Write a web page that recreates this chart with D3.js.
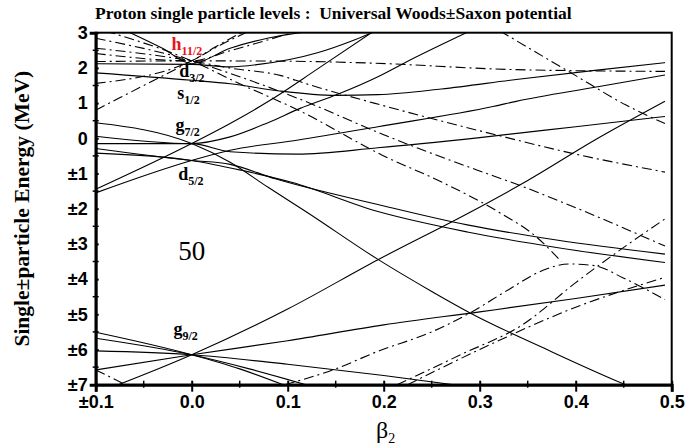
<!DOCTYPE html>
<html>
<head>
<meta charset="utf-8">
<script src="https://cdn.jsdelivr.net/npm/d3@7"></script>
<style>
  body { margin: 0; background: #fff; }
  svg { display: block; }
  .tick-label { font-family: "Liberation Sans", Arial, sans-serif; font-weight: bold; font-size: 18px; }
  .serif { font-family: "Liberation Serif", "Times New Roman", serif; }
</style>
</head>
<body>
<div id="chart"></div>
<script>
// axis ticks
const xTicks = [-0.1, 0.0, 0.1, 0.2, 0.3, 0.4, 0.5];
const yTicks = [3, 2, 1, 0, -1, -2, -3, -4, -5, -6, -7];

// single particle levels, [beta2, energy (MeV)]
// g9/2 (spherical -6.15)
const g92_a = [[-0.1, -7.25], [0, -6.15], [0.1, -4.85], [0.194, -3.45], [0.29, -2.1], [0.35, -1.2], [0.42, -0.05], [0.493, 1.05]];
const g92_b = [[-0.1, -6.58], [0, -6.15], [0.1, -5.75], [0.2, -5.3], [0.3, -4.93], [0.4, -4.55], [0.493, -4.17]];
const g92_c = [[-0.1, -6.04], [0, -6.15], [0.1, -6.42], [0.2, -6.74], [0.3, -7.1]];
const g92_d = [[-0.1, -5.68], [0, -6.15], [0.06, -6.55], [0.125, -7.05]];
const g92_e = [[-0.1, -5.51], [0, -6.15], [0.05, -6.55], [0.1, -7.05]];
// g7/2 (spherical -0.15)
const g72_a = [[-0.1, -1.45], [0, -0.15], [0.04, 0.42], [0.08, 1.05], [0.13, 1.95], [0.19, 3.05]];
const g72_b = [[-0.1, 0.06], [0, -0.15], [0.04, 0.04], [0.08, 0.45], [0.113, 0.85], [0.152, 1.25], [0.194, 1.75], [0.225, 2.19], [0.29, 3.05]];
const g72_c = [[-0.1, -0.15], [0, -0.15], [0.04, -0.38], [0.11, -0.45], [0.194, -0.27], [0.3, 0.02], [0.4, 0.33], [0.493, 0.62]];
const g72_d = [[-0.1, 0.44], [0, -0.15], [0.04, -0.68], [0.08, -1.4], [0.12, -2.1], [0.194, -3.44], [0.25, -4.35], [0.29, -4.96], [0.37, -6.0], [0.452, -7.0], [0.47, -7.2]];
// d5/2 (spherical -0.63)
const d52_a = [[-0.1, -1.55], [0, -0.63], [0.04, -0.34], [0.111, -0.05], [0.194, 0.33], [0.315, 0.91], [0.338, 1.05], [0.42, 1.45], [0.493, 1.8]];
const d52_b = [[-0.1, -0.29], [0, -0.63], [0.04, -0.74], [0.087, -1.15], [0.194, -1.88], [0.287, -2.46], [0.38, -2.89], [0.493, -3.29]];
const d52_c = [[-0.1, -0.42], [0, -0.63], [0.052, -0.91], [0.104, -1.25], [0.194, -2.08], [0.287, -2.66], [0.38, -3.1], [0.493, -3.53]];
// s1/2 and d3/2
const s12_a = [[-0.1, 1.86], [0, 1.65], [0.04, 1.55], [0.09, 1.35], [0.15, 1.22], [0.194, 1.24], [0.26, 1.4], [0.338, 1.67], [0.42, 1.93], [0.493, 2.15]];
const d32_a = [[-0.068, 3.05], [-0.03, 2.55], [0, 2.12], [0.04, 2.56], [0.08, 2.85], [0.126, 3.05]];
const d32_b = [[-0.1, 2.12], [0, 2.1], [0.04, 2.03], [0.07, 2.1], [0.131, 2.43], [0.17, 2.8], [0.192, 3.05]];
// h11/2 (spherical 2.2)
const h112_a = [[-0.09, 3.05], [0, 2.2], [0.05, 1.55], [0.111, 0.8], [0.2, -0.5], [0.261, -1.25], [0.32, -2.1], [0.359, -2.8], [0.385, -3.5]];
const h112_b = [[-0.1, 2.84], [0, 2.2], [0.05, 1.75], [0.111, 1.13], [0.2, 0.1], [0.297, -0.9], [0.338, -1.3], [0.42, -2.2], [0.493, -3.06]];
const h112_c = [[-0.1, 2.56], [0, 2.2], [0.039, 2.0], [0.093, 1.78], [0.118, 1.56], [0.19, 1.0], [0.318, 0.09], [0.4, -0.45], [0.493, -0.96]];
const h112_d = [[-0.1, 2.18], [0, 2.2], [0.1, 2.19], [0.183, 2.14], [0.338, 1.95], [0.493, 1.9]];
const h112_e = [[-0.1, 2.41], [0, 2.2], [0.039, 2.48], [0.08, 2.8], [0.11, 3.05]];
const h112_f = [[-0.1, 1.56], [0, 2.2], [0.025, 2.6], [0.055, 3.05]];
const h112_g = [[-0.1, 0.8], [-0.05, 1.5], [0, 2.2], [0.03, 2.65], [0.06, 3.05]];
// other negative parity levels
const neg_a = [[0.321, 3.05], [0.4, 1.78], [0.452, 0.95], [0.493, 0.42]];
const neg_b = [[0.097, -7.0], [0.15, -6.55], [0.194, -6.05], [0.25, -5.5], [0.29, -4.96], [0.33, -4.3], [0.366, -3.75], [0.393, -3.57], [0.42, -3.62], [0.449, -3.96], [0.493, -4.58]];
const neg_c = [[0.214, -7.0], [0.28, -6.15], [0.345, -5.29], [0.4, -4.1], [0.45, -3.1], [0.493, -2.29]];
const neg_d = [[0.225, -7.0], [0.3, -6.0], [0.4, -4.8], [0.493, -3.95]];
const neg_e = [[-0.1, -6.58], [-0.065, -7.05]];

const solidLevels = [g92_a, g92_b, g92_c, g92_d, g92_e, g72_a, g72_b, g72_c, g72_d,
  d52_a, d52_b, d52_c, s12_a, d32_a, d32_b];
const dashLevels = [h112_a, h112_b, h112_c, h112_d, h112_e, h112_f, h112_g,
  neg_a, neg_b, neg_c, neg_d, neg_e];

const W = 700, H = 447;
const margin = { left: 95.7, right: 700 - 671.7, top: 32.7, bottom: 447 - 384.7 };

const svg = d3.select('#chart').append('svg')
  .attr('width', W).attr('height', H);

svg.append('rect').attr('width', W).attr('height', H).attr('fill', '#fff');

const x = d3.scaleLinear().domain([-0.1, 0.5]).range([margin.left, W - margin.right]);
const y = d3.scaleLinear().domain([-7, 3]).range([H - margin.bottom, margin.top]);

const fmt = (v, digits) => (v < 0 ? '±' : '') + Math.abs(v).toFixed(digits);

svg.append('clipPath').attr('id', 'plot-clip')
  .append('rect')
  .attr('x', x(-0.1)).attr('y', y(3))
  .attr('width', x(0.5) - x(-0.1)).attr('height', y(-7) - y(3));

const line = d3.line()
  .x(d => x(d[0]))
  .y(d => y(d[1]))
  .curve(d3.curveMonotoneX);

const g = svg.append('g').attr('clip-path', 'url(#plot-clip)');

g.selectAll('path.solid')
  .data(solidLevels)
  .join('path')
  .attr('class', 'solid')
  .attr('d', line)
  .attr('fill', 'none')
  .attr('stroke', '#000')
  .attr('stroke-width', 1.1);

g.selectAll('path.dash')
  .data(dashLevels)
  .join('path')
  .attr('class', 'dash')
  .attr('d', line)
  .attr('fill', 'none')
  .attr('stroke', '#000')
  .attr('stroke-width', 1.1)
  .attr('stroke-dasharray', '10,4,2,4');

// frame
svg.append('rect')
  .attr('x', x(-0.1)).attr('y', y(3))
  .attr('width', x(0.5) - x(-0.1)).attr('height', y(-7) - y(3))
  .attr('fill', 'none').attr('stroke', '#000').attr('stroke-width', 2);

// bottom axis
const xAxis = d3.axisBottom(x).tickValues(xTicks).tickFormat(d => fmt(d, 1)).tickSize(7).tickPadding(4);
const gx = svg.append('g').attr('transform', `translate(0,${y(-7)})`).call(xAxis);
gx.select('.domain').attr('stroke-width', 3);
gx.selectAll('.tick line').attr('stroke-width', 2).attr('y1', -4);
gx.selectAll('.tick text').attr('class', 'tick-label').attr('fill', '#000');
const xMinor = d3.range(-0.05, 0.5, 0.1);
gx.selectAll('line.minor').data(xMinor).join('line').attr('class', 'minor')
  .attr('x1', d => x(d)).attr('x2', d => x(d)).attr('y1', -4).attr('y2', 3)
  .attr('stroke', '#000').attr('stroke-width', 1.5);

// left axis
const yAxis = d3.axisLeft(y).tickValues(yTicks).tickFormat(d => fmt(d, 0)).tickSize(6).tickPadding(2);
const gy = svg.append('g').attr('transform', `translate(${x(-0.1)},0)`).call(yAxis);
gy.select('.domain').attr('stroke-width', 3);
gy.selectAll('.tick line').attr('stroke-width', 2).attr('x2', 3);
gy.selectAll('.tick text').attr('class', 'tick-label').attr('fill', '#000');
const yMinor = d3.range(-6.5, 3, 1);
gy.selectAll('line.minor').data(yMinor).join('line').attr('class', 'minor')
  .attr('x1', -3).attr('x2', 3).attr('y1', d => y(d)).attr('y2', d => y(d))
  .attr('stroke', '#000').attr('stroke-width', 1.5);
svg.selectAll('.domain').attr('stroke', '#000');
svg.selectAll('.tick line').attr('stroke', '#000');

// title and axis titles
svg.append('text').attr('class', 'serif')
  .attr('x', 95).attr('y', 19)
  .attr('font-size', 17.5).attr('font-weight', 'bold')
  .style('white-space', 'pre')
  .text('Proton single particle levels :  Universal Woods±Saxon potential');

svg.append('text').attr('class', 'serif')
  .attr('transform', `translate(29,${(y(3) + y(-7)) / 2}) rotate(-90)`)
  .attr('text-anchor', 'middle')
  .attr('font-size', 21.5).attr('font-weight', 'bold')
  .text('Single±particle Energy (MeV)');

const xl = svg.append('text').attr('class', 'serif')
  .attr('x', (x(-0.1) + x(0.5)) / 2 + 2).attr('y', 438)
  .attr('text-anchor', 'middle')
  .attr('font-size', 24);
xl.append('tspan').text('β');
xl.append('tspan').attr('font-size', 14).attr('dy', 5).text('2');

// orbital labels
const orbitLabels = [
  { main: 'h', sub: '11/2', b: -0.021, e: 2.5, color: '#e8141c' },
  { main: 'd', sub: '3/2', b: -0.013, e: 1.75, color: '#000' },
  { main: 's', sub: '1/2', b: -0.015, e: 1.11, color: '#000' },
  { main: 'g', sub: '7/2', b: -0.017, e: 0.2, color: '#000' },
  { main: 'd', sub: '5/2', b: -0.014, e: -1.18, color: '#000' },
  { main: 'g', sub: '9/2', b: -0.019, e: -5.6, color: '#000' }
];
orbitLabels.forEach(l => {
  const t = svg.append('text').attr('class', 'serif')
    .attr('x', x(l.b)).attr('y', y(l.e))
    .attr('font-size', 18).attr('font-weight', 'bold').attr('fill', l.color);
  t.append('tspan').text(l.main);
  t.append('tspan').attr('font-size', 12).attr('dy', 5).text(l.sub);
});

svg.append('text').attr('class', 'serif')
  .attr('x', x(0)).attr('y', y(-3.45))
  .attr('text-anchor', 'middle')
  .attr('font-size', 27)
  .text('50');
</script>
</body>
</html>
